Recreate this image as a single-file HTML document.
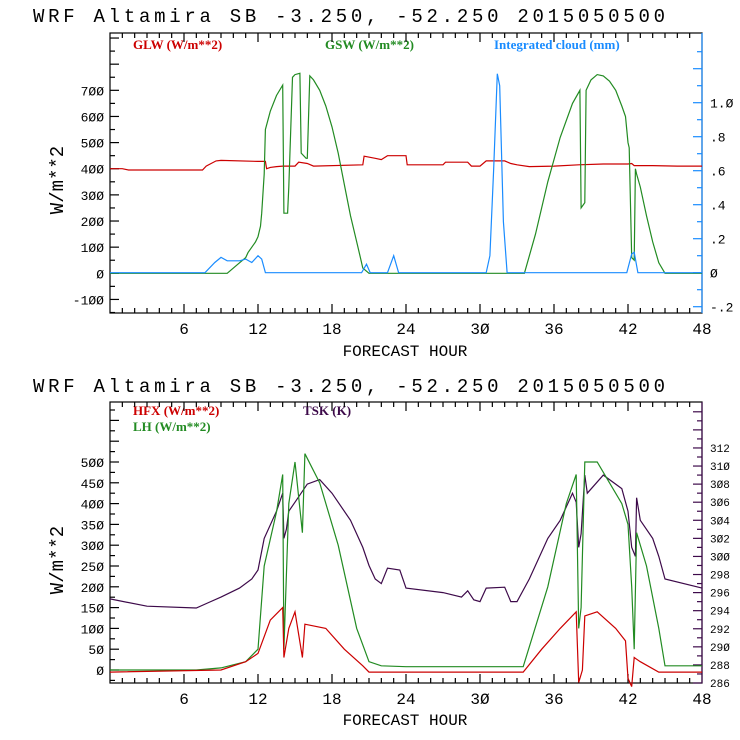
<!DOCTYPE html>
<html><head><meta charset="utf-8"><style>
html,body{margin:0;padding:0;background:#fff;}
svg{display:block;}
.t{font-family:"Liberation Mono",monospace;font-size:19px;fill:#000;}
.ax{font-family:"Liberation Mono",monospace;font-size:16px;fill:#000;}
.yt{font-family:"Liberation Mono",monospace;font-size:19px;fill:#000;}
.tk{font-family:"Liberation Mono",monospace;font-size:13px;fill:#000;}
.tks{font-family:"Liberation Mono",monospace;font-size:11px;fill:#000;}
.lg{font-family:"Liberation Serif",serif;font-size:13px;font-weight:bold;}
</style></head><body>
<svg id="c" width="740" height="740" xmlns="http://www.w3.org/2000/svg">
<text class="t" x="33" y="22" textLength="632">WRF  Altamira  SB  -3.250, -52.250  2015050500</text>
<text class="t" x="33" y="392" textLength="632">WRF  Altamira  SB  -3.250, -52.250  2015050500</text>
<text class="ax" x="405" y="356" text-anchor="middle">FORECAST HOUR</text>
<text class="ax" x="405" y="725" text-anchor="middle">FORECAST HOUR</text>
<text class="yt" transform="translate(63,180) rotate(-90)" text-anchor="middle">W/m**2</text>
<text class="yt" transform="translate(63,560) rotate(-90)" text-anchor="middle">W/m**2</text>
<text class="lg" x="133" y="49" fill="#cc0000">GLW (W/m**2)</text>
<text class="lg" x="325" y="49" fill="#228b22">GSW (W/m**2)</text>
<text class="lg" x="494" y="49" fill="#1a8cff">Integrated cloud (mm)</text>
<text class="lg" x="133" y="415" fill="#cc0000">HFX (W/m**2)</text>
<text class="lg" x="133" y="431" fill="#228b22">LH  (W/m**2)</text>
<text class="lg" x="303" y="415" fill="#3d0a4a">TSK (K)</text>
</svg>
<script>
// ---- data ----
const xTicks=[6,12,18,24,30,36,42,48];
const topLeftTicks=[-100,0,100,200,300,400,500,600,700];
const cloudTicks=[-0.2,0,0.2,0.4,0.6,0.8,1.0];
const cloudTickLabels=['-.2','0','.2','.4','.6','.8','1.0'];
const botLeftTicks=[0,50,100,150,200,250,300,350,400,450,500];
const tskTicks=[286,288,290,292,294,296,298,300,302,304,306,308,310,312];
const glwH=[0,1,1.5,7.5,7.8,8.2,8.6,9,12,12.6,12.7,13,13.5,14,15,15.3,16,16.5,20.5,20.6,21.5,22,22.5,24,24.1,27,27.2,29,29.3,30,30.5,32,32.5,33,34,36,38,40,42,42.3,42.5,44,46,48];
const glwV=[400,400,395,395,410,420,430,432,428,428,400,405,408,410,410,425,420,410,415,448,440,435,450,450,415,415,425,425,410,410,430,430,420,415,408,410,415,418,418,420,412,412,410,410];
const gswH=[0,9.5,10.5,11,11.2,11.5,11.8,12,12.2,12.3,12.5,12.6,13,13.5,14,14.1,14.4,14.5,14.8,15,15.4,15.5,15.9,16,16.2,16.5,17,17.5,18,18.5,19,19.5,20,20.3,20.5,21,33.6,34.5,35.5,36.5,37.5,38.1,38.2,38.5,38.6,39,39.5,40,40.5,41,41.5,41.8,42,42.1,42.3,42.5,42.6,42.7,43,43.5,44,44.5,45,48];
const gswV=[0,0,40,60,80,100,120,140,180,230,380,550,620,680,720,230,230,330,750,760,765,460,440,440,755,740,700,640,560,460,340,220,120,60,20,0,0,150,350,520,650,700,250,270,700,740,760,755,735,700,640,600,500,480,60,50,400,380,330,220,120,40,0,0];
const cloudH=[0,7.7,8.5,9,9.5,10.5,11,11.5,12,12.3,12.6,20.4,20.8,21.1,22.5,23,23.4,30.5,30.8,31.1,31.4,31.6,31.9,32.2,41.9,42.3,42.5,42.8,48];
const cloudV=[0,0,0.06,0.09,0.07,0.07,0.08,0.06,0.1,0.08,0,0,0.05,0,0,0.1,0,0,0.1,0.6,1.17,1.1,0.3,0,0,0.11,0.12,0,0];
const tskH=[0,3,7,8,9,10.5,11.5,12,12.5,13.5,14,14.1,14.3,14.5,15,16,17,18,19.5,20.5,21,21.5,22,22.5,23.5,24,27,28.5,29,29.5,30,30.5,32,32.5,33,34,35.5,36.5,37.5,37.8,38,38.2,38.5,38.7,40,41.5,42,42.3,42.6,42.7,43,44,44.5,45,48];
const tskV=[295.3,294.5,294.3,294.9,295.5,296.5,297.5,298.5,302,305,307,302,303,305,306,308,308.5,307,304,301,299,297.5,297,298.7,298.5,296.5,296,295.5,296.2,295.2,295,296.5,296.6,295,295,297.5,302,304,307,306,301,302.5,309,307,309,307.5,305,301,300,306.5,304,302,300,297.5,296.5];
const lhH=[0,7,9,11,12,12.5,13.5,14,14.1,14.5,15,15.6,15.8,17,18.5,20,21,22,24,33.5,35.5,37,37.8,38,38.2,38.5,39.5,40.5,41.5,42,42.3,42.5,42.7,43.5,44.5,45,48];
const lhV=[0,0,5,20,50,250,380,470,50,400,500,330,520,450,300,100,20,10,8,8,200,400,470,100,150,500,500,450,400,350,200,50,330,250,100,10,10];
const hfxH=[0,9,11,12,13,14,14.1,14.5,15,15.6,15.8,17.5,19,20.5,21,33.5,35,36.5,37.8,38,38.3,38.5,39.5,41,41.8,42,42.3,42.5,43,44.5,48];
const hfxV=[-5,0,20,40,120,150,30,100,140,30,110,100,50,10,-5,-5,50,100,140,-30,0,130,140,100,70,-20,-40,30,20,-5,-5];

const svg=document.getElementById('c');
const NS='http://www.w3.org/2000/svg';
const X0=110,X1=702;
const xs=h=>X0+h*(X1-X0)/48;
const yTop=v=>273.3-v*0.2614;
const yCloud=c=>272.7-c*170;
const yBot=v=>670-v*0.416;
const yK=k=>683-(k-286)*9.04;
function el(tag,attrs,parent){const e=document.createElementNS(NS,tag);for(const k in attrs)e.setAttribute(k,attrs[k]);(parent||svg).appendChild(e);return e;}
function line(x1,y1,x2,y2,col){return el('line',{x1,y1,x2,y2,stroke:col,'stroke-width':1.2});}
function txt(x,y,s,cls,anchor){const t=el('text',{x,y,class:cls,'text-anchor':anchor||'middle'});t.textContent=s;return t;}

function panel(top,bot,rightCol,name){
  const g=el('rect',{x:X0,y:top,width:X1-X0,height:bot-top,fill:'none',stroke:'#000','stroke-width':1.2});
  
  
  line(X1,top,X1,bot,rightCol);
  for(let h=1;h<48;h++){const L=(h%6==0)?9:5;line(xs(h),bot,xs(h),bot-L,'#000');line(xs(h),top,xs(h),top+L,'#000');}
  xTicks.forEach(h=>{const t=txt(xs(h),bot+21,String(h).replace(/0/g,'Ø'),'ax');
    
    });
}
panel(33,313,'#1a8cff','top');
panel(402,683,'#3d0a4a','bottom');
for(let v=-150;v<=900;v+=50){const y=yTop(v);if(y<33||y>313)continue;line(X0,y,X0+(v%100==0?9:5),y,'#000');}
topLeftTicks.forEach(v=>{const t=txt(X0-6,yTop(v)+5,String(v).replace(/0/g,'Ø'),'tk','end');
  
  });
for(let c=-0.2;c<=1.4;c+=0.1){const y=yCloud(c);if(y<33||y>313)continue;line(X1,y,X1-(Math.round(c*10)%2==0?9:5),y,'#1a8cff');}
cloudTicks.forEach((c,i)=>{const t=txt(X1+8,yCloud(c)+5,cloudTickLabels[i].replace(/0/g,'Ø'),'tk','start');
  
  });
for(let v=-25;v<=650;v+=25){const y=yBot(v);if(y<402||y>683)continue;line(X0,y,X0+(v%50==0?9:5),y,'#000');}
botLeftTicks.forEach(v=>{const t=txt(X0-6,yBot(v)+5,String(v).replace(/0/g,'Ø'),'tk','end');
  
  });
for(let k=286;k<=316;k+=1){const y=yK(k);if(y<402||y>683)continue;line(X1,y,X1-(k%2==0?9:5),y,'#3d0a4a');}
tskTicks.forEach(k=>{const t=txt(X1+8,yK(k)+4,String(k).replace(/0/g,'Ø'),'tks','start');
  
  });

function series(H,V,yf,col,name){
  const pts=H.map((h,i)=>xs(h).toFixed(1)+','+yf(V[i]).toFixed(1)).join(' ');
  const p=el('polyline',{points:pts,fill:'none',stroke:col,'stroke-width':1.2});
  
  
}
series(glwH,glwV,yTop,'#cc0000','glw-line');
series(gswH,gswV,yTop,'#228b22','gsw-line');
series(cloudH,cloudV,yCloud,'#1a8cff','cloud-line');
series(tskH,tskV,yK,'#3d0a4a','tsk-line');
series(lhH,lhV,yBot,'#228b22','lh-line');
series(hfxH,hfxV,yBot,'#cc0000','hfx-line');
</script>
</body></html>
